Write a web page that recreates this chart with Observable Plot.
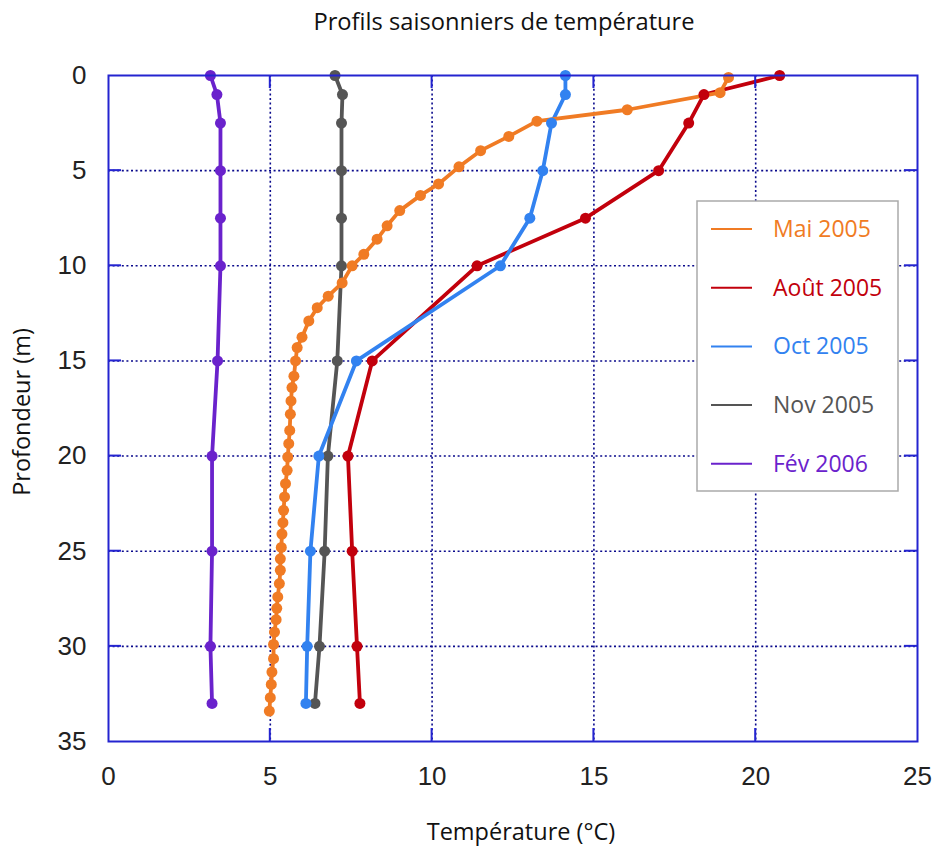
<!DOCTYPE html>
<html><head><meta charset="utf-8">
<script src="https://cdn.jsdelivr.net/npm/d3@7"></script>
<script src="https://cdn.jsdelivr.net/npm/@observablehq/plot@0.6"></script>
<style>body{margin:0;background:#fff;font-family:"Open Sans",sans-serif;}</style>
</head><body><div id="chart"></div>
<script>
const title = "Profils saisonniers de température";
const xLabel = "Température (°C)";
const yLabel = "Profondeur (m)";
const xTicks = [0, 5, 10, 15, 20, 25];
const yTicks = [0, 5, 10, 15, 20, 25, 30, 35];

const seriesNames = ["Mai 2005", "Août 2005", "Oct 2005", "Nov 2005", "Fév 2006"];
const seriesColors = ["#f07b24", "#c2000c", "#3282f0", "#555555", "#6a22cc"];

const maiDepth = [0.1, 0.9, 1.8, 2.4, 3.2, 3.95, 4.8, 5.7, 6.3, 7.1, 7.9, 8.6, 9.4, 10.0, 10.9, 11.6, 12.2, 12.9, 13.75, 14.3, 15.0, 15.8, 16.4, 17.1, 17.8, 18.65, 19.35, 20.05, 20.75, 21.45, 22.15, 22.85, 23.5, 24.1, 24.8, 25.4, 26.0, 26.7, 27.4, 28.0, 28.6, 29.25, 29.9, 30.65, 31.35, 32.0, 32.7, 33.4];
const maiTemp = [19.16, 18.9, 16.03, 13.24, 12.37, 11.5, 10.83, 10.2, 9.64, 9.0, 8.61, 8.3, 7.89, 7.53, 7.22, 6.79, 6.45, 6.19, 5.98, 5.83, 5.78, 5.73, 5.67, 5.64, 5.62, 5.6, 5.57, 5.54, 5.52, 5.47, 5.44, 5.41, 5.39, 5.36, 5.34, 5.31, 5.31, 5.28, 5.23, 5.2, 5.18, 5.13, 5.1, 5.1, 5.05, 5.03, 5.0, 4.97];

const aoutDepth = [0, 1, 2.5, 5, 7.5, 10, 15, 20, 25, 30, 33];
const aoutTemp = [20.74, 18.4, 17.93, 17.0, 14.74, 11.39, 8.15, 7.4, 7.53, 7.68, 7.77];

const octDepth = [0, 1, 2.5, 5, 7.5, 10, 15, 20, 25, 30, 33];
const octTemp = [14.12, 14.12, 13.69, 13.42, 13.02, 12.11, 7.66, 6.5, 6.24, 6.14, 6.1];

const novDepth = [0, 1, 2.5, 5, 7.5, 10, 15, 20, 25, 30, 33];
const novTemp = [7.0, 7.23, 7.2, 7.2, 7.2, 7.2, 7.07, 6.78, 6.68, 6.52, 6.38];

const fevDepth = [0, 1, 2.5, 5, 7.5, 10, 15, 20, 25, 30, 33];
const fevTemp = [3.15, 3.35, 3.46, 3.46, 3.46, 3.46, 3.37, 3.2, 3.2, 3.15, 3.2];

const depthArrays = [maiDepth, aoutDepth, octDepth, novDepth, fevDepth];
const tempArrays = [maiTemp, aoutTemp, octTemp, novTemp, fevTemp];

const rows = [];
seriesNames.forEach((name, i) => {
  depthArrays[i].forEach((d, j) => rows.push({series: name, depth: d, temp: tempArrays[i][j]}));
});
const drawOrder = ["Fév 2006", "Nov 2005", "Août 2005", "Oct 2005", "Mai 2005"];
rows.sort((a, b) => drawOrder.indexOf(a.series) - drawOrder.indexOf(b.series));

const W = 934, H = 848;
const tickFont = "Liberation Sans, Arial, sans-serif";
const plot = Plot.plot({
  width: W, height: H,
  marginTop: 75, marginLeft: 108, marginRight: 17, marginBottom: 107,
  style: {fontFamily: "Open Sans, sans-serif", fontSize: "20px", color: "#111", background: "#fff"},
  x: {domain: [0, 25], ticks: xTicks, label: null},
  y: {domain: [0, 35], reverse: true, ticks: yTicks, label: null},
  color: {domain: seriesNames, range: seriesColors},
  marks: [
    Plot.gridX(xTicks.slice(1, -1), {stroke: "#0a0a8c", strokeOpacity: 1, strokeWidth: 1.6, strokeDasharray: "2 2.6"}),
    Plot.gridY(yTicks.slice(1, -1), {stroke: "#0a0a8c", strokeOpacity: 1, strokeWidth: 1.6, strokeDasharray: "2 2.6"}),
    Plot.axisX(xTicks, {anchor: "bottom", tickSize: 0, tickPadding: 25, fontSize: 26, fontFamily: tickFont, fill: "#222", label: null}),
    Plot.axisY(yTicks, {anchor: "left", tickSize: 0, tickPadding: 22, fontSize: 26, fontFamily: tickFont, fill: "#222", label: null}),
    Plot.line(rows, {x: "temp", y: "depth", z: "series", stroke: "series", strokeWidth: 3.8, curve: "linear"}),
    Plot.dot(rows, {x: "temp", y: "depth", fill: "series", r: 5.5, stroke: "none"}),
    Plot.frame({stroke: "#2424d0", strokeWidth: 2})
  ]
});
document.getElementById("chart").appendChild(plot);

const svg = d3.select(plot);
const sx = plot.scale("x"), sy = plot.scale("y");
const x0 = sx.apply(0), x1 = sx.apply(25), y0 = sy.apply(0), y1 = sy.apply(35);
const tickLen = 13;
const tg = svg.append("g").attr("stroke", "#2424d0").attr("stroke-width", 2);
xTicks.slice(1, -1).forEach(v => {
  const px = sx.apply(v);
  tg.append("line").attr("x1", px).attr("x2", px).attr("y1", y0).attr("y2", y0 + tickLen);
  tg.append("line").attr("x1", px).attr("x2", px).attr("y1", y1).attr("y2", y1 - tickLen);
});
yTicks.slice(1, -1).forEach(v => {
  const py = sy.apply(v);
  tg.append("line").attr("y1", py).attr("y2", py).attr("x1", x0).attr("x2", x0 + tickLen);
  tg.append("line").attr("y1", py).attr("y2", py).attr("x1", x1).attr("x2", x1 - tickLen);
});

svg.append("text").attr("x", 504).attr("y", 30).attr("text-anchor", "middle")
  .attr("font-size", 23.7).attr("fill", "#111").text(title);
svg.append("text").attr("x", 521).attr("y", 840).attr("text-anchor", "middle")
  .attr("font-size", 23.5).attr("fill", "#111").text(xLabel);
svg.append("text").attr("transform", `translate(30,412) rotate(-90)`).attr("text-anchor", "middle")
  .attr("font-size", 23.5).attr("fill", "#111").text(yLabel);

const lg = svg.append("g");
lg.append("rect").attr("x", 697).attr("y", 201).attr("width", 201).attr("height", 290)
  .attr("fill", "#fff").attr("stroke", "#aaaaaa").attr("stroke-width", 1.5);
seriesNames.forEach((name, i) => {
  const ly = 229 + i * 58.7;
  lg.append("line").attr("x1", 711).attr("x2", 752).attr("y1", ly).attr("y2", ly)
    .attr("stroke", seriesColors[i]).attr("stroke-width", 2);
  lg.append("text").attr("x", 773).attr("y", ly).attr("dy", "0.35em").attr("font-size", 23)
    .attr("text-anchor", "start").attr("fill", seriesColors[i]).text(name);
});
</script>
</body></html>
